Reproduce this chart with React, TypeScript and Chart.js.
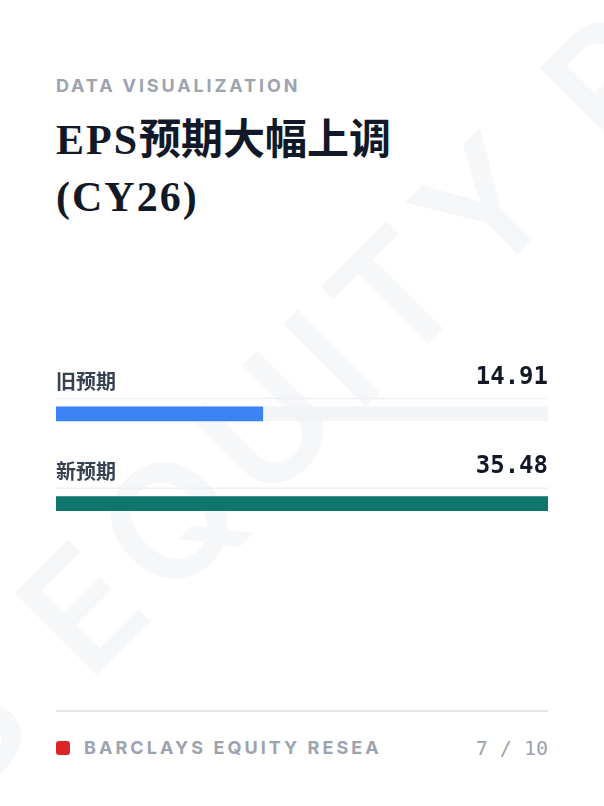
import React, { useEffect, useRef } from "react";
import { Chart, registerables } from "chart.js";

Chart.register(...registerables);

const CATEGORIES = ["旧预期", "新预期"];
const EPS_VALUES = [14.91, 35.48];
const BAR_COLORS = ["#3b82f6", "#0f766e"];
const TRACK_COLOR = "#f3f4f6";

const SANS = 'Inter, "Noto Sans", "Noto Sans CJK SC", sans-serif';
const MONO = '"DejaVu Sans Mono", "Liberation Mono", monospace';

export default function App() {
  const canvasRef = useRef<HTMLCanvasElement | null>(null);

  useEffect(() => {
    const canvas = canvasRef.current;
    if (!canvas) return;
    const scaleMax = Math.max(...EPS_VALUES);
    const track = EPS_VALUES.map(() => scaleMax);

    const rowPlugin = {
      id: "rowLabels",
      beforeDatasetsDraw(chart: any) {
        const { ctx, chartArea } = chart;
        const meta = chart.getDatasetMeta(0);
        ctx.save();
        ctx.strokeStyle = "#eef0f3";
        ctx.lineWidth = 1.5;
        meta.data.forEach((el: any) => {
          const y = el.y - 15.5;
          ctx.beginPath();
          ctx.moveTo(chartArea.left, y);
          ctx.lineTo(chartArea.right, y);
          ctx.stroke();
        });
        ctx.restore();
      },
      afterDatasetsDraw(chart: any) {
        const { ctx, chartArea } = chart;
        const meta = chart.getDatasetMeta(0);
        ctx.save();
        meta.data.forEach((el: any, i: number) => {
          ctx.font = '700 20px "Noto Sans CJK SC", sans-serif';
          ctx.fillStyle = "#374151";
          ctx.textAlign = "left";
          ctx.textBaseline = "middle";
          ctx.fillText(String(chart.data.labels[i]), chartArea.left, el.y - 32);
          ctx.font = 'bold 24px ' + MONO;
          ctx.fillStyle = "#111827";
          ctx.textAlign = "right";
          ctx.fillText(EPS_VALUES[i].toFixed(2), chartArea.right, el.y - 36.5);
        });
        ctx.restore();
      },
    };

    const chart = new Chart(canvas, {
      type: "bar",
      data: {
        labels: CATEGORIES,
        datasets: [
          {
            data: EPS_VALUES,
            backgroundColor: BAR_COLORS,
            barThickness: 14,
            grouped: false,
            borderWidth: 0,
          } as any,
          {
            data: track,
            backgroundColor: TRACK_COLOR,
            barThickness: 14,
            grouped: false,
            borderWidth: 0,
          } as any,
        ],
      },
      options: {
        indexAxis: "y",
        animation: false,
        responsive: true,
        maintainAspectRatio: false,
        layout: { padding: { top: 29, bottom: 21.5, left: 0, right: 0 } },
        scales: {
          x: { display: false, min: 0, max: scaleMax },
          y: { display: false },
        },
        plugins: {
          legend: { display: false },
          tooltip: { enabled: false },
        },
        events: [],
      },
      plugins: [rowPlugin],
    });
    return () => chart.destroy();
  }, []);

  const latin = { letterSpacing: 2 };

  return (
    <div
      style={{
        position: "fixed",
        left: 0,
        top: 0,
        width: 604,
        height: 806,
        background: "#ffffff",
        overflow: "hidden",
      }}
    >
      <div
        style={{
          position: "absolute",
          left: 292,
          top: 398,
          transform: "translate(-50%, -50%) rotate(-45deg)",
          fontFamily: SANS,
          fontWeight: 600,
          fontSize: 160,
          lineHeight: "160px",
          letterSpacing: 14,
          color: "#f6f7f8",
          whiteSpace: "nowrap",
          userSelect: "none",
        }}
      >
        BARCLAYS EQUITY RESEARCH
      </div>

      <div
        style={{
          position: "absolute",
          left: 56,
          top: 76,
          fontFamily: SANS,
          fontWeight: 700,
          fontSize: 18,
          lineHeight: "20px",
          letterSpacing: "0.16em",
          color: "#9ca3af",
          whiteSpace: "nowrap",
        }}
      >
        DATA VISUALIZATION
      </div>

      <div
        style={{
          position: "absolute",
          left: 56,
          top: 112,
          width: 492,
          fontFamily: '"Liberation Serif", "Noto Sans CJK SC", serif',
          fontWeight: 700,
          fontSize: 42,
          lineHeight: "57px",
          color: "#111827",
          whiteSpace: "nowrap",
        }}
      >
        <span style={latin}>EPS</span>预期大幅上调
        <br />
        <span style={latin}>(CY26)</span>
      </div>

      <div style={{ position: "absolute", left: 56, top: 340, width: 492, height: 230 }}>
        <canvas ref={canvasRef} />
      </div>

      <div
        style={{
          position: "absolute",
          left: 56,
          top: 710,
          width: 492,
          height: 1.5,
          background: "#e5e7eb",
        }}
      />
      <div
        style={{
          position: "absolute",
          left: 56,
          top: 741,
          width: 14,
          height: 14,
          borderRadius: 3,
          background: "#dc2626",
        }}
      />
      <div
        style={{
          position: "absolute",
          left: 84,
          top: 738,
          fontFamily: SANS,
          fontWeight: 700,
          fontSize: 18,
          lineHeight: "20px",
          letterSpacing: "0.17em",
          color: "#9ca3af",
          whiteSpace: "nowrap",
        }}
      >
        BARCLAYS EQUITY RESEA
      </div>
      <div
        style={{
          position: "absolute",
          right: 56,
          top: 738,
          fontFamily: MONO,
          fontWeight: 500,
          fontSize: 20,
          lineHeight: "20px",
          color: "#9ca3af",
          whiteSpace: "nowrap",
        }}
      >
        7 / 10
      </div>
    </div>
  );
}
